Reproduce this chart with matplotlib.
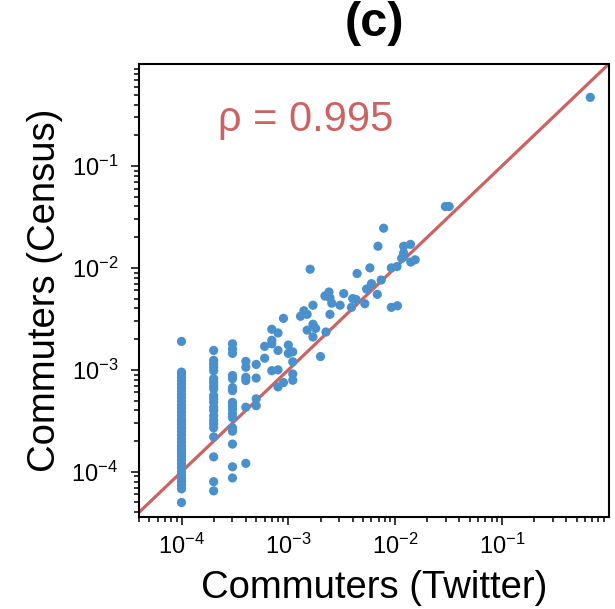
import matplotlib
matplotlib.use("Agg")
import matplotlib.pyplot as plt
import numpy as np

plt.rcParams['font.family'] = ['Liberation Sans', 'DejaVu Sans']
plt.rcParams['mathtext.default'] = 'regular'

# census share for each discrete twitter share (columns on the left)
col_1e4 = [1.9e-3, 9.5e-4, 9.0e-4, 8.4e-4, 7.8e-4, 7.2e-4, 6.7e-4, 6.2e-4, 5.7e-4,
           5.3e-4, 4.9e-4, 4.5e-4, 4.2e-4, 3.9e-4, 3.6e-4, 3.3e-4, 3.1e-4, 2.9e-4,
           2.7e-4, 2.5e-4, 2.3e-4, 2.1e-4, 1.95e-4, 1.8e-4, 1.7e-4, 1.6e-4, 1.5e-4,
           1.4e-4, 1.3e-4, 1.2e-4, 1.1e-4, 1.0e-4, 9.3e-5, 8.6e-5, 8.0e-5, 7.4e-5,
           6.8e-5, 5.0e-5]
col_2e4 = [1.55e-3, 1.24e-3, 1.15e-3, 1.06e-3, 9.8e-4, 8.2e-4, 7.55e-4, 7.0e-4,
           6.5e-4, 5.6e-4, 5.2e-4, 4.8e-4, 4.3e-4, 4.0e-4, 3.55e-4, 3.2e-4, 2.95e-4,
           2.7e-4, 2.2e-4, 1.4e-4, 8.0e-5, 6.5e-5]
col_3e4 = [1.8e-3, 1.6e-3, 1.45e-3, 8.8e-4, 8.2e-4, 6.7e-4, 6.25e-4, 4.8e-4, 4.45e-4,
           4.1e-4, 3.7e-4, 3.4e-4, 2.7e-4, 2.5e-4, 1.87e-4, 1.12e-4, 8.7e-5]
col_4e4 = [1.21e-3, 1.06e-3, 8.45e-4, 7.85e-4, 4.3e-4, 1.21e-4]
col_5e4 = [1.13e-3, 8.3e-4, 5.2e-4, 4.45e-4]

# remaining flows (twitter share, census share)
twitter_rest = [6e-4, 6e-4, 7e-4, 7e-4, 7e-4, 7e-4, 8e-4, 8e-4, 8e-4, 8e-4,
                9e-4, 9e-4, 1e-3, 1e-3, 1.1e-3, 1.1e-3, 1.1e-3, 1.1e-3,
                1.3e-3, 1.4e-3, 1.5e-3, 1.5e-3, 1.6e-3, 1.7e-3, 1.7e-3, 1.8e-3,
                1.7e-3, 2.0e-3, 2.2e-3, 2.4e-3, 2.45e-3, 2.55e-3, 2.45e-3, 2.25e-3,
                3.05e-3, 3.3e-3, 3.9e-3, 4.0e-3, 4.3e-3, 4.4e-3, 5.2e-3, 5.4e-3,
                5.8e-3, 6.0e-3, 6.8e-3, 6.9e-3, 7.4e-3, 7.8e-3, 9.2e-3, 1.04e-2,
                9.2e-3, 1.05e-2, 1.15e-2, 1.2e-2, 1.2e-2, 1.39e-2, 1.2e-2, 1.4e-2,
                1.54e-2, 2.95e-2, 3.2e-2, 0.67]
census_rest = [1.7e-3, 1.3e-3, 2.5e-3, 1.95e-3, 1.8e-3, 9.8e-4, 2.3e-3, 1.55e-3, 1.0e-3, 6.8e-4,
               3.2e-3, 7.5e-4, 1.75e-3, 1.45e-3, 1.5e-3, 1.2e-3, 9.1e-4, 7.9e-4,
               3.35e-3, 3.8e-3, 3.5e-3, 2.45e-3, 9.7e-3, 4.3e-3, 2.8e-3, 2.55e-3,
               2.1e-3, 1.35e-3, 5.3e-3, 5.8e-3, 5.1e-3, 4.5e-3, 3.5e-3, 2.35e-3,
               4.3e-3, 5.6e-3, 4.1e-3, 5.0e-3, 4.9e-3, 8.8e-3, 4.45e-3, 6.2e-3,
               1.0e-2, 7.0e-3, 5.5e-3, 1.63e-2, 7.6e-3, 2.45e-2, 1.0e-2, 1.03e-2,
               4.1e-3, 4.25e-3, 1.24e-2, 1.4e-2, 1.63e-2, 1.7e-2, 1.28e-2, 1.14e-2,
               1.2e-2, 4.0e-2, 4.0e-2, 0.47]

rho = 0.995

columns = [(1e-4, col_1e4), (2e-4, col_2e4), (3e-4, col_3e4), (4e-4, col_4e4), (5e-4, col_5e4)]
x = [xv for xv, ys in columns for _ in ys] + twitter_rest
y = [yv for _, ys in columns for yv in ys] + census_rest

dot_color = '#4a90cd'
line_color = '#cd6262'

fig = plt.figure(figsize=(6.15, 6.09), dpi=100)
ax = fig.add_axes([0.226, 0.151, 0.764, 0.744])

ax.scatter(x, y, s=44, color=dot_color, edgecolors='none', zorder=3)
ax.plot([4e-5, 1], [4e-5, 1], color=line_color, lw=2.3, zorder=2)

ax.set_xscale('log')
ax.set_yscale('log')
ax.set_xlim(4e-5, 1)
ax.set_ylim(3.6e-5, 1)

for s in ax.spines.values():
    s.set_linewidth(1.5)
ax.tick_params(which='major', length=6, width=1.1, labelsize=17)
ax.tick_params(which='minor', length=3.5, width=1.1)
ax.tick_params(axis='y', which='major', pad=9)
ax.tick_params(axis='x', which='major', pad=6)
ax.set_xticks([1e-4, 1e-3, 1e-2, 1e-1])
ax.set_yticks([1e-4, 1e-3, 1e-2, 1e-1])

ax.set_xlabel('Commuters (Twitter)', fontsize=27.5, labelpad=8)
ax.set_ylabel('Commuters (Census)', fontsize=27.5, labelpad=6)
ax.set_title('(c)', fontsize=35, fontweight='bold', pad=20)

ax.text(0.168, 0.852, 'ρ = %.3f' % rho, transform=ax.transAxes,
        fontsize=30, color=line_color, ha='left', va='baseline')

fig.savefig('out.png', dpi=100)
